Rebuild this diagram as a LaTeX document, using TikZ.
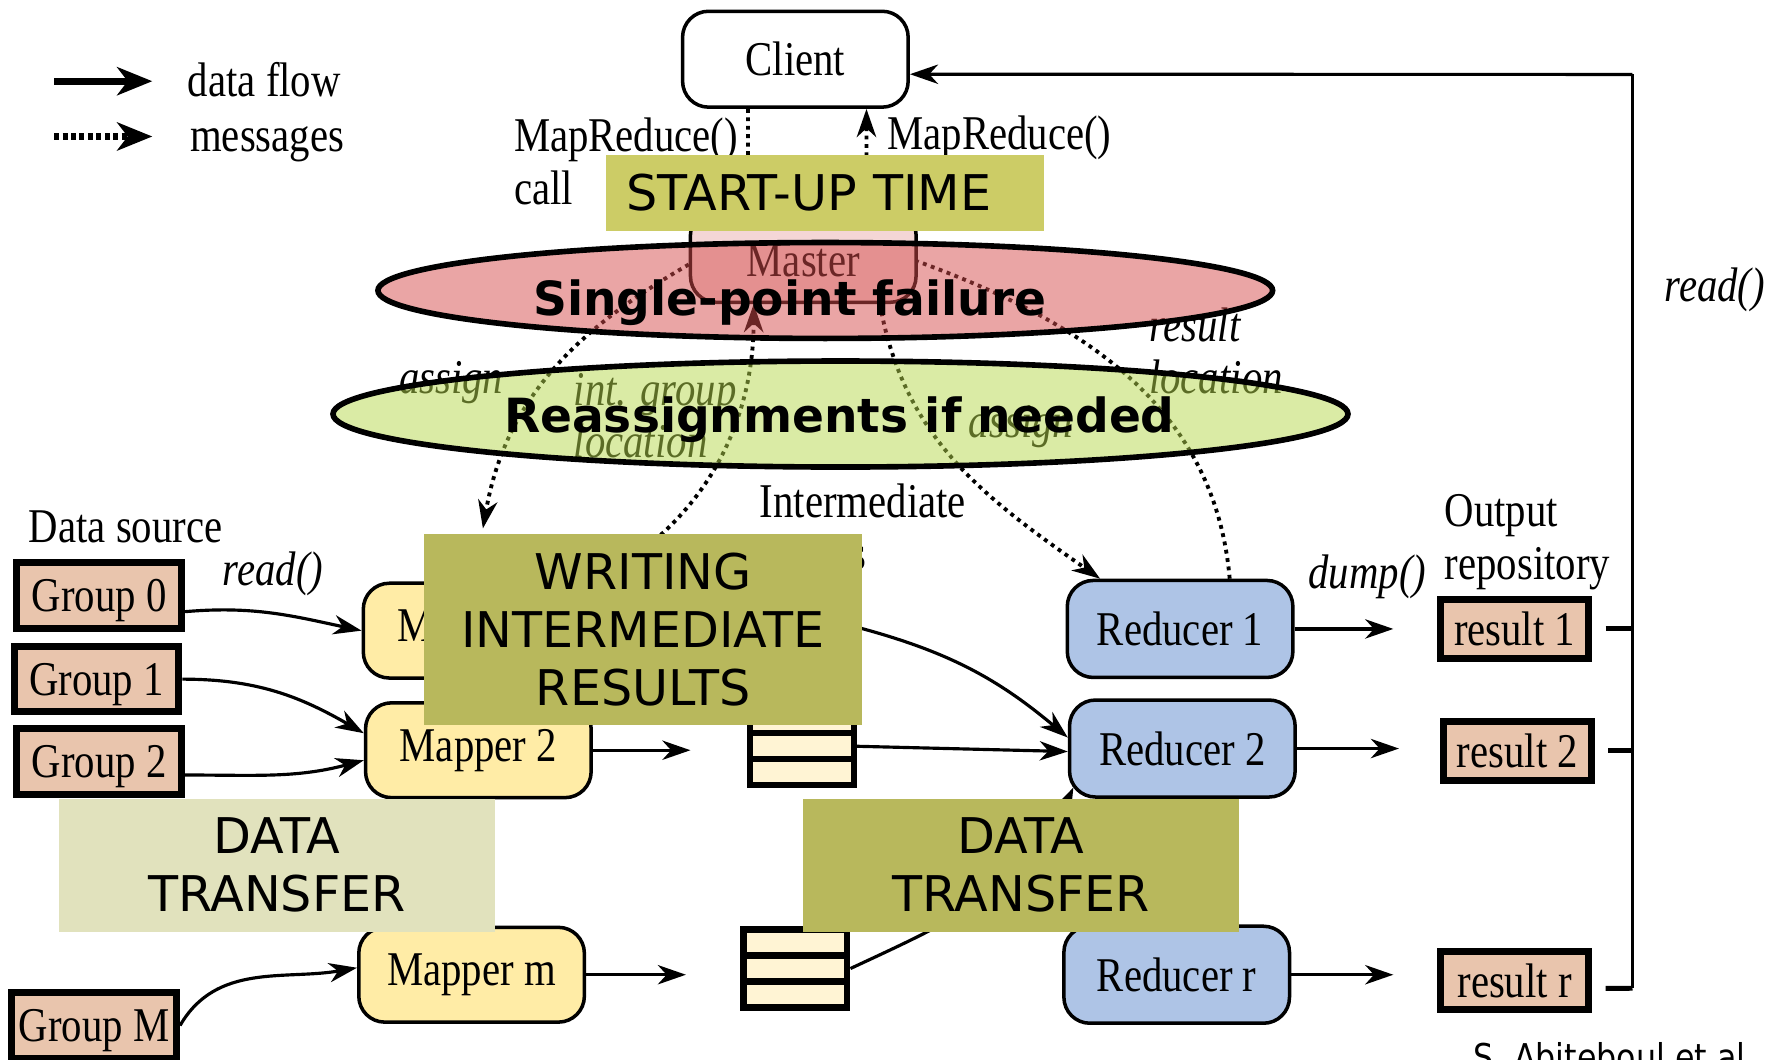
\documentclass[tikz,border=0pt]{standalone}
\usepackage{fontspec}
\usetikzlibrary{arrows.meta,shapes.geometric}

\newfontfamily\figfont[FakeStretch=0.84]{Liberation Serif}
\newfontfamily\ovfont{DejaVu Sans}
\newfontfamily\credfont[FakeStretch=0.86]{DejaVu Sans}

\definecolor{grpfill}{RGB}{233,197,173}
\definecolor{mapfill}{RGB}{255,236,166}
\definecolor{redcfill}{RGB}{174,196,230}
\definecolor{buffill}{RGB}{255,244,212}
\definecolor{mastfill}{RGB}{244,214,214}
\definecolor{startfill}{RGB}{204,204,102}
\definecolor{olivefill}{RGB}{184,184,92}
\definecolor{palefill}{RGB}{225,226,189}
\definecolor{failred}{RGB}{214,76,76}
\definecolor{reasgreen}{RGB}{183,217,77}

\begin{document}
\begin{tikzpicture}[x=0.11282mm,y=0.11282mm,
  >={Stealth[length=8pt,width=5.5pt,inset=2.5pt]},
  txt/.style={font=\figfont\fontsize{13.8}{15}\selectfont,inner sep=0pt},
  itxt/.style={txt,font=\figfont\itshape\fontsize{13.8}{15}\selectfont},
  rbox/.style={txt,draw,line width=1pt,rounded corners=2.6mm,minimum width=22.56mm},
  mapper/.style={rbox,fill=mapfill,minimum height=9.48mm},
  reducer/.style={rbox,fill=redcfill,minimum height=9.7mm},
  grp/.style={txt,draw,line width=2pt,fill=grpfill,minimum width=16.47mm,minimum height=6.54mm,text depth=0pt},
  res/.style={grp,minimum width=14.78mm,minimum height=5.87mm},
  cell/.style={draw,line width=1.8pt,fill=buffill,minimum width=10.38mm,minimum height=2.6mm,inner sep=0pt},
  data/.style={line width=0.9pt,->},
  msg/.style={line width=1.1pt,dash pattern=on 1.1pt off 1.3pt},
  feed/.style={line width=0.9pt},
  stub/.style={line width=1.4pt},
  obox/.style={inner sep=0pt,align=center,font=\ovfont\fontsize{14}{16.5}\selectfont},
  oval/.style={ellipse,draw,line width=1.6pt,fill opacity=0.5,draw opacity=1,inner sep=0pt},
  ovtxt/.style={inner sep=0pt,font=\ovfont\bfseries\fontsize{13.4}{16}\selectfont}]
\useasboundingbox (0,0) rectangle (1568,939);
\fill[white] (0,0) rectangle (1568,939);

% legend
\coordinate (lgA) at (48,867);
\coordinate (lgB) at (135,867);
\coordinate (lgC) at (48,818);
\coordinate (lgD) at (135,818);
\draw[line width=2pt,-{Stealth[length=10pt,width=8pt,inset=3pt]}] (lgA) -- (lgB);
\draw[line width=2pt,dash pattern=on 1.4pt off 1pt,-{Stealth[length=10pt,width=8pt,inset=3pt]}] (lgC) -- (lgD);
\node[txt,anchor=west] (lgdata) at (166,868) {data flow};
\node[txt,anchor=west] (lgmsg) at (168,811) {messages};

% client and master
\node[rbox,fill=white,minimum height=9.59mm] (client) at (705,886.5) {Client};
\node[rbox,fill=mastfill,minimum height=9.36mm,text height=4.3mm] (master) at (712,712.5) {Master};
\draw[msg,->] ([xshift=-4.74mm]client.south) -- ([xshift=-5.53mm]master.north);
\draw[msg,->] ([xshift=6.32mm]master.north) -- ([xshift=7.11mm]client.south);
\node[txt,align=left,anchor=north west] (callL) at (455,835) {MapReduce()\\call};
\node[txt,anchor=west] (retL) at (786,817) {MapReduce()};

% data source and mappers
\node[txt,anchor=west] (dsrc) at (25,472) {Data source};
\node[grp] (g0) at (88,411) {Group 0};
\node[grp] (g1) at (85.5,337) {Group 1};
\node[grp] (g2) at (88,264) {Group 2};
\node[grp] (gM) at (83.5,30) {Group M};
\node[itxt] (rdL) at (242,430) {read()};

\node[mapper] (m1) at (422,380) {Mapper 1};
\node[mapper] (m2) at (424,274) {Mapper 2};
\node[mapper] (mm) at (418,75) {Mapper m};

% intermediate buffers
\node[cell] (b1a) at (711,406) {};
\node[cell] (b1b) at (711,383) {};
\node[cell] (b1c) at (711,360) {};
\node[cell] (b2a) at (711,300.5) {};
\node[cell] (b2b) at (711,277.5) {};
\node[cell] (b2c) at (711,254.5) {};
\node[cell] (bma) at (705,103.5) {};
\node[cell] (bmb) at (705,80.5) {};
\node[cell] (bmc) at (705,57.5) {};
\node[txt,align=left,anchor=north west] (imL) at (673,511) {Intermediate\\results};

% reducers and output
\node[reducer] (r1) at (1046,381.5) {Reducer 1};
\node[reducer] (r2) at (1048,275.5) {Reducer 2};
\node[reducer] (rr) at (1043,75) {Reducer r};
\node[itxt] (dumpL) at (1212,428) {dump()};
\node[txt,align=left,anchor=north west] (outL) at (1280,501) {Output\\repository};
\node[res] (res1) at (1342.5,381.5) {result 1};
\node[res] (res2) at (1345,273.5) {result 2};
\node[res] (resr) at (1342.5,70) {result r};

\coordinate (m1o) at (612,380);
\coordinate (m2o) at (612,274);
\coordinate (mmo) at (608,75);
\coordinate (r1o) at (1235,381.5);
\coordinate (r2o) at (1240,275.5);
\coordinate (rro) at (1235,75);

\draw[data] ([yshift=-1.6mm]g0.east) to[out=5,in=168] (m1.west);
\draw[data] (g1.east) to[out=0,in=150] ([yshift=1.7mm]m2.west);
\draw[data] ([yshift=-1.35mm]g2.east) to[out=0,in=195] ([yshift=-1mm]m2.west);
\draw[data] (gM.east) to[out=60,in=190] ([yshift=0.7mm]mm.west);
\draw[data] (m1.east) -- (m1o);
\draw[data] (m2.east) -- (m2o);
\draw[data] (mm.east) -- (mmo);
\draw[data] (b1b.east) to[out=-15,in=140] ([yshift=1.1mm]r2.west);
\draw[data] (b2b.east) -- ([yshift=-0.3mm]r2.west);
\draw[data] (bmb.east) to[out=25,in=-115] ([xshift=0.56mm,yshift=1.13mm]r2.south west);
\draw[data] (r1.east) -- (r1o);
\draw[data] (r2.east) -- (r2o);
\draw[data] (rr.east) -- (rro);

% results back to the client
\coordinate (rdt) at (1447,873);
\coordinate (rdb) at (1447,63);
\draw[feed] (rdb) -- (rdt);
\draw[feed,->] (rdt) -- ([yshift=-1.5mm]client.east);
\draw[stub] ([xshift=1.35mm]res1.east) -- (res1.east -| rdt);
\draw[stub] ([xshift=1.35mm]res2.east) -- (res2.east -| rdt);
\draw[stub] ([xshift=1.35mm,yshift=-0.8mm]resr.east) -- (rdb);
\node[itxt] (rd2L) at (1520,682) {read()};

% master messages
\draw[msg,->] ([yshift=-0.9mm]master.west) to[out=210,in=80] ([xshift=0.68mm,yshift=5.3mm]m1.north);
\draw[msg,->] (m1.north east) .. controls (620,470) and (668,560) .. ([xshift=-4.96mm]master.south);
\draw[msg,->] ([xshift=7.67mm]master.south) to[out=-80,in=145] ([xshift=-8mm]r1.north);
\draw[msg] ([xshift=4.96mm]r1.north) to[out=95,in=-20] ([yshift=-0.6mm]master.east);
\node[itxt] (as1) at (400,600) {assign};
\node[itxt,align=left,anchor=north west] (igl) at (508,609) {int. group\\location};
\node[itxt] (as2) at (905,561) {assign};
\node[itxt,align=left,anchor=north west] (rlL) at (1018,667) {result\\location};

% overlays
\node[oval,fill=failred,minimum width=89.47mm,minimum height=9.59mm] (spf) at (731.5,681.5) {};
\node[ovtxt] (spfT) at (700,671) {Single-point failure};
\node[oval,fill=reasgreen,minimum width=101.5mm,minimum height=10.6mm] (rin) at (745,572) {};
\node[ovtxt] (rinT) at (744,567) {Reassignments if needed};

\node[obox,fill=startfill,minimum width=43.77mm,minimum height=7.67mm,text width=39.7mm,inner xsep=2.03mm,align=left] (startup) at (731,768) {START-UP TIME};
\node[obox,fill=olivefill,minimum width=43.77mm,minimum height=19.18mm] (writing) at (570,381) {WRITING\\INTERMEDIATE\\RESULTS};
\node[obox,fill=palefill,minimum width=43.66mm,minimum height=13.31mm] (xferL) at (245.5,172) {DATA\\TRANSFER};
\node[obox,fill=olivefill,minimum width=43.66mm,minimum height=13.31mm] (xferR) at (905,172) {DATA\\TRANSFER};

\node[font=\credfont\fontsize{10.5}{12}\selectfont,anchor=base west,inner sep=0pt] (cred) at (1305.7,-9.5) {S. Abiteboul et al};
\end{tikzpicture}
\end{document}
